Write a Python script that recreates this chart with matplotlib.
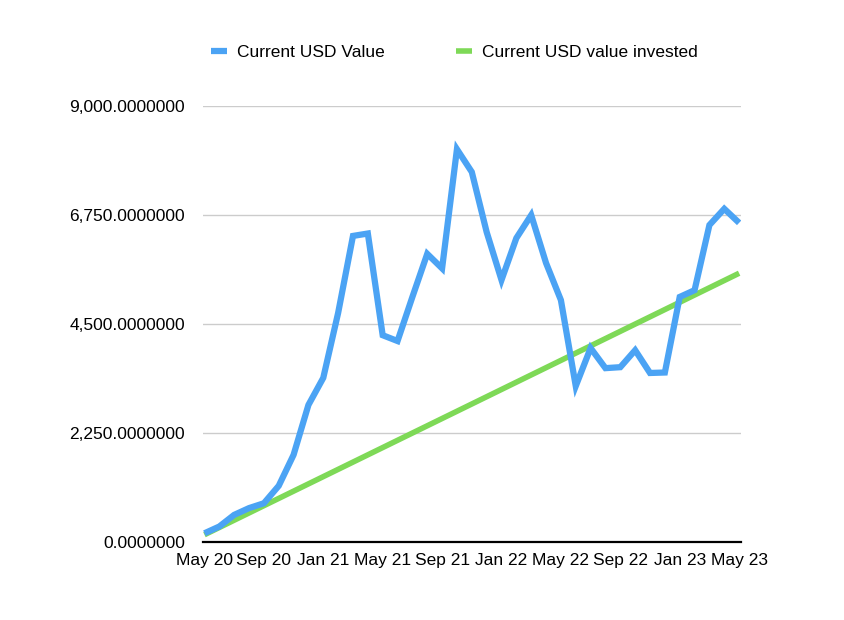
import matplotlib
matplotlib.use("Agg")
import matplotlib.pyplot as plt

# monthly values, May 2020 .. May 2023
months = ["May 20", "Jun 20", "Jul 20", "Aug 20", "Sep 20", "Oct 20", "Nov 20", "Dec 20",
          "Jan 21", "Feb 21", "Mar 21", "Apr 21", "May 21", "Jun 21", "Jul 21", "Aug 21",
          "Sep 21", "Oct 21", "Nov 21", "Dec 21", "Jan 22", "Feb 22", "Mar 22", "Apr 22",
          "May 22", "Jun 22", "Jul 22", "Aug 22", "Sep 22", "Oct 22", "Nov 22", "Dec 22",
          "Jan 23", "Feb 23", "Mar 23", "Apr 23", "May 23"]

usd_value = [180, 320, 560, 700, 800, 1160, 1800, 2830, 3390, 4730, 6320, 6370,
             4270, 4150, 5060, 5950, 5650, 8110, 7640, 6400, 5410, 6275, 6750, 5760,
             4995, 3220, 4005, 3590, 3610, 3960, 3490, 3500, 5060, 5200, 6545, 6880,
             6590]

usd_invested = [150, 300, 450, 600, 750, 900, 1050, 1200, 1350, 1500, 1650, 1800,
                1950, 2100, 2250, 2400, 2550, 2700, 2850, 3000, 3150, 3300, 3450, 3600,
                3750, 3900, 4050, 4200, 4350, 4500, 4650, 4800, 4950, 5100, 5250, 5400,
                5550]

y_ticks = [0, 2250, 4500, 6750, 9000]

plt.rcParams["font.family"] = ["Liberation Sans", "DejaVu Sans"]

fig = plt.figure(figsize=(8.44, 6.2), dpi=100)
ax = fig.add_axes([0.2405, 0.1258, 0.637, 0.703])

xs = list(range(len(months)))
ax.plot(xs, usd_invested, color="#7ED957", linewidth=4.0,
        solid_capstyle="butt", label="Current USD value invested", zorder=3)
ax.plot(xs, usd_value, color="#4BA3F4", linewidth=4.5,
        solid_joinstyle="miter", solid_capstyle="butt",
        label="Current USD Value", zorder=4)

ax.set_xlim(-0.1, len(months) - 1 + 0.1)
ax.set_ylim(0, 9000)
ax.set_yticks(y_ticks)
ax.set_yticklabels([f"{v:,.7f}" for v in y_ticks], fontsize=12.5)
ax.set_xticks(xs[::4])
ax.set_xticklabels(months[::4], fontsize=12.5)
ax.tick_params(axis="both", length=0, colors="black")
ax.tick_params(axis="y", pad=13)
ax.tick_params(axis="x", pad=8)

ax.grid(axis="y", color="#CCCCCC", linewidth=1.0)
ax.set_axisbelow(True)
for side in ["top", "right", "left"]:
    ax.spines[side].set_visible(False)
ax.spines["bottom"].set_color("black")
ax.spines["bottom"].set_linewidth(1.6)
ax.spines["bottom"].set_zorder(5)

handles, labels = ax.get_legend_handles_labels()
order = [1, 0]
fig.legend([handles[i] for i in order], [labels[i] for i in order],
           loc="center", bbox_to_anchor=(0.5385, 0.916), ncol=2, frameon=False,
           fontsize=12.5, handlelength=0.9, handletextpad=0.6, columnspacing=4.1)

fig.savefig("out.png", dpi=100)
